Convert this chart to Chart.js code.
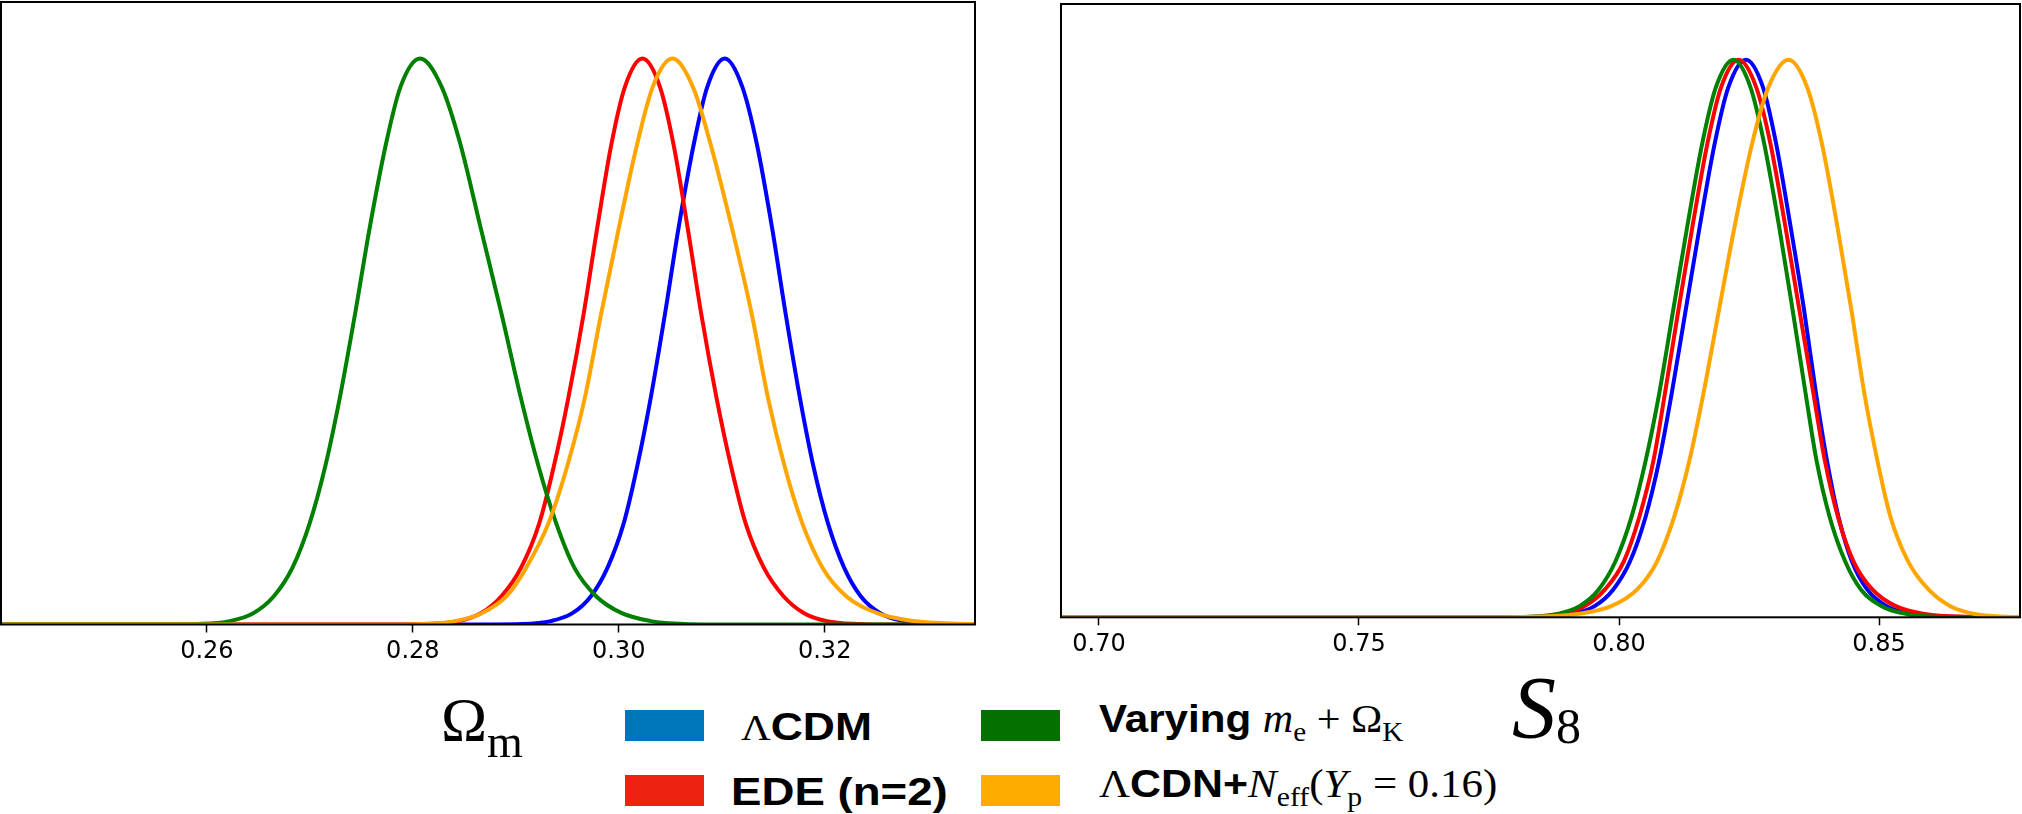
<!DOCTYPE html>
<html>
<head>
<meta charset="utf-8">
<title>Omega_m and S8 posteriors</title>
<script src="https://cdn.jsdelivr.net/npm/chart.js@4.4.0/dist/chart.umd.min.js"></script>
<style>
  body { margin: 0; background: #fff; }
  #page { position: relative; width: 2022px; height: 814px; overflow: hidden; background: #fff; }
  .panel { position: absolute; top: 0; }
  .lbl { position: absolute; white-space: nowrap; line-height: 1; color: #000; transform-origin: left center; }
  .sans { font-family: "Liberation Sans", Arial, sans-serif; font-weight: bold; font-size: 39px; }
  .serif { font-family: "Liberation Serif", "Times New Roman", serif; font-weight: normal; font-size: 39px; }
  .it { font-style: italic; }
  .sub { position: relative; top: 0.32em; font-size: 27px; font-family: "Liberation Serif", "Times New Roman", serif; font-weight: normal; font-style: normal; }
  .swatch { position: absolute; width: 79px; height: 31px; }
</style>
</head>
<body>
<div id="page">
  <div class="panel" style="left:0px;"><canvas id="omegaChart" width="990" height="690"></canvas></div>
  <div class="panel" style="left:1040px;"><canvas id="s8Chart" width="982" height="690"></canvas></div>

  <!-- axis titles -->
  <div class="lbl serif" style="left:441px; top:688px; font-size:62px;">Ω<span class="sub" style="font-size:46px; top:0.36em;">m</span></div>
  <div class="lbl serif it" style="left:1512px; top:664px; font-size:88px;">S<span class="sub" style="font-size:50px; top:0.12em;">8</span></div>

  <!-- legend -->
  <div class="swatch" style="left:625px; top:710px; background:#0175BA;"></div>
  <div class="swatch" style="left:625px; top:775px; background:#EE2211;"></div>
  <div class="swatch" style="left:981px; top:710px; background:#037000;"></div>
  <div class="swatch" style="left:981px; top:775px; background:#FEAD00;"></div>

  <div class="lbl sans" style="left:741px; top:707px; transform:scaleX(1.14);"><span class="serif" style="font-size:36px;">Λ</span>CDM</div>
  <div class="lbl sans" style="left:731px; top:772px; transform:scaleX(1.17);">EDE (n=2)</div>
  <div class="lbl sans" style="left:1099px; top:699px; transform:scaleX(1.08);">Varying <span class="serif it">m</span><span class="sub">e</span><span class="serif"> + Ω</span><span class="sub">K</span></div>
  <div class="lbl sans" style="left:1099px; top:764px; transform:scaleX(1.1);"><span class="serif">Λ</span>CDN+<span class="serif it">N</span><span class="sub">eff</span><span class="serif">(<span class="it">Y</span></span><span class="sub">p</span><span class="serif"> = 0.16)</span></div>
</div>

<script>
// axis limits and tick positions
const omegaRange = [0.24, 0.3346];
const s8Range = [0.6927, 0.8771];
const omegaTicks = [0.26, 0.28, 0.30, 0.32];
const s8Ticks = [0.70, 0.75, 0.80, 0.85];

// Omega_m marginals (normalised to peak = 1)
const omLcdmX = [0.2400, 0.2840, 0.2906, 0.2934, 0.2955, 0.2973, 0.2989, 0.3005, 0.3018, 0.3031, 0.3045, 0.3058, 0.3073, 0.3086, 0.3103, 0.3120, 0.3134, 0.3149, 0.3162, 0.3176, 0.3189, 0.3203, 0.3219, 0.3235, 0.3254, 0.3277, 0.3320, 0.3346];
const omLcdmY = [0, 0, 0.001, 0.006, 0.02, 0.05, 0.10, 0.18, 0.28, 0.40, 0.55, 0.70, 0.85, 0.95, 1.0, 0.95, 0.85, 0.70, 0.55, 0.40, 0.28, 0.18, 0.10, 0.05, 0.02, 0.006, 0.001, 0];

const omEdeX = [0.2400, 0.2780, 0.2812, 0.2844, 0.2866, 0.2886, 0.2905, 0.2923, 0.2937, 0.2951, 0.2966, 0.2979, 0.2993, 0.3006, 0.3023, 0.3040, 0.3053, 0.3067, 0.3080, 0.3095, 0.3109, 0.3123, 0.3141, 0.3160, 0.3180, 0.3202, 0.3234, 0.3270, 0.3346];
const omEdeY = [0, 0, 0.001, 0.006, 0.02, 0.05, 0.10, 0.18, 0.28, 0.40, 0.55, 0.70, 0.85, 0.95, 1.0, 0.95, 0.85, 0.70, 0.55, 0.40, 0.28, 0.18, 0.10, 0.05, 0.02, 0.006, 0.001, 0, 0];

const omMeX = [0.2400, 0.2550, 0.2591, 0.2622, 0.2645, 0.2665, 0.2683, 0.2700, 0.2715, 0.2729, 0.2744, 0.2758, 0.2774, 0.2788, 0.2807, 0.2828, 0.2846, 0.2866, 0.2886, 0.2905, 0.2922, 0.2939, 0.2957, 0.2978, 0.3003, 0.3031, 0.3064, 0.3110, 0.3346];
const omMeY = [0, 0, 0.001, 0.006, 0.02, 0.05, 0.10, 0.18, 0.28, 0.40, 0.55, 0.70, 0.85, 0.95, 1.0, 0.95, 0.85, 0.70, 0.55, 0.40, 0.28, 0.18, 0.10, 0.05, 0.02, 0.006, 0.001, 0, 0];

const omNeffX = [0.2400, 0.2770, 0.2810, 0.2841, 0.2867, 0.2891, 0.2910, 0.2932, 0.2950, 0.2967, 0.2983, 0.3000, 0.3018, 0.3033, 0.3052, 0.3072, 0.3089, 0.3110, 0.3129, 0.3145, 0.3161, 0.3178, 0.3198, 0.3221, 0.3251, 0.3286, 0.3335, 0.3346];
const omNeffY = [0, 0, 0.001, 0.006, 0.02, 0.05, 0.10, 0.18, 0.28, 0.40, 0.55, 0.70, 0.85, 0.95, 1.0, 0.95, 0.85, 0.70, 0.55, 0.40, 0.28, 0.18, 0.10, 0.05, 0.02, 0.006, 0.001, 0.0006];

// S8 marginals
const s8LcdmX = [0.6927, 0.7750, 0.7857, 0.7911, 0.7953, 0.7989, 0.8021, 0.8051, 0.8077, 0.8101, 0.8128, 0.8155, 0.8184, 0.8210, 0.8244, 0.8277, 0.8302, 0.8330, 0.8356, 0.8379, 0.8400, 0.8422, 0.8448, 0.8477, 0.8515, 0.8567, 0.8638, 0.8771];
const s8LcdmY = [0, 0, 0.001, 0.006, 0.02, 0.05, 0.10, 0.18, 0.28, 0.40, 0.55, 0.70, 0.85, 0.95, 1.0, 0.95, 0.85, 0.70, 0.55, 0.40, 0.28, 0.18, 0.10, 0.05, 0.02, 0.006, 0.001, 0];

const s8EdeX = [0.6927, 0.7700, 0.7836, 0.7891, 0.7934, 0.7973, 0.8009, 0.8039, 0.8066, 0.8088, 0.8114, 0.8141, 0.8170, 0.8196, 0.8230, 0.8264, 0.8291, 0.8320, 0.8347, 0.8374, 0.8396, 0.8421, 0.8451, 0.8487, 0.8532, 0.8588, 0.8665, 0.8771];
const s8EdeY = [0, 0, 0.001, 0.006, 0.02, 0.05, 0.10, 0.18, 0.28, 0.40, 0.55, 0.70, 0.85, 0.95, 1.0, 0.95, 0.85, 0.70, 0.55, 0.40, 0.28, 0.18, 0.10, 0.05, 0.02, 0.006, 0.001, 0];

const s8MeX = [0.6927, 0.7700, 0.7826, 0.7881, 0.7924, 0.7961, 0.7993, 0.8024, 0.8051, 0.8077, 0.8104, 0.8131, 0.8160, 0.8186, 0.8220, 0.8253, 0.8279, 0.8308, 0.8334, 0.8359, 0.8380, 0.8405, 0.8435, 0.8465, 0.8505, 0.8553, 0.8607, 0.8700, 0.8771];
const s8MeY = [0, 0, 0.001, 0.006, 0.02, 0.05, 0.10, 0.18, 0.28, 0.40, 0.55, 0.70, 0.85, 0.95, 1.0, 0.95, 0.85, 0.70, 0.55, 0.40, 0.28, 0.18, 0.10, 0.05, 0.02, 0.006, 0.001, 0, 0];

const s8NeffX = [0.6927, 0.7700, 0.7839, 0.7920, 0.7985, 0.8035, 0.8073, 0.8106, 0.8135, 0.8162, 0.8192, 0.8222, 0.8256, 0.8287, 0.8326, 0.8362, 0.8390, 0.8420, 0.8447, 0.8472, 0.8497, 0.8522, 0.8556, 0.8595, 0.8637, 0.8684, 0.8746, 0.8771];
const s8NeffY = [0, 0, 0.001, 0.006, 0.02, 0.05, 0.10, 0.18, 0.28, 0.40, 0.55, 0.70, 0.85, 0.95, 1.0, 0.95, 0.85, 0.70, 0.55, 0.40, 0.28, 0.18, 0.10, 0.05, 0.02, 0.006, 0.001, 0.0005];

function pairs(xs, ys) {
    return xs.map(function(x, i) { return { x: x, y: ys[i] }; });
}

function curve(xs, ys, color, order) {
    return {
        data: pairs(xs, ys),
        borderColor: color,
        borderWidth: 4,
        pointRadius: 0,
        fill: false,
        cubicInterpolationMode: 'monotone',
        order: order
    };
}

// box round the plot area, drawn over the curves like a matplotlib frame
const frame = {
    id: 'frame',
    afterDatasetsDraw: function(chart) {
        const a = chart.chartArea;
        const ctx = chart.ctx;
        ctx.save();
        ctx.strokeStyle = '#000';
        ctx.lineWidth = 2;
        ctx.strokeRect(a.left, a.top, a.right - a.left, a.bottom - a.top);
        ctx.restore();
    }
};

function makePanel(id, datasets, range, ticks, padding, axisHeight) {
    return new Chart(document.getElementById(id), {
        type: 'line',
        data: { datasets: datasets },
        options: {
            responsive: false,
            animation: false,
            layout: { padding: padding },
            plugins: { legend: { display: false }, tooltip: { enabled: false } },
            scales: {
                x: {
                    type: 'linear',
                    min: range[0],
                    max: range[1],
                    afterBuildTicks: function(scale) {
                        scale.ticks = ticks.map(function(v) { return { value: v }; });
                    },
                    afterFit: function(scale) { scale.height = axisHeight; },
                    ticks: {
                        color: '#000',
                        padding: 5,
                        maxRotation: 0,
                        font: { family: 'DejaVu Sans', size: 24 },
                        callback: function(v) { return v.toFixed(2); }
                    },
                    grid: {
                        drawOnChartArea: false,
                        drawTicks: true,
                        tickLength: 8,
                        tickWidth: 1.5,
                        tickColor: '#000'
                    },
                    border: { display: false }
                },
                y: { display: false, min: 0, max: 1.1 }
            }
        },
        plugins: [frame]
    });
}

makePanel('omegaChart', [
    curve(omLcdmX, omLcdmY, '#0000FF', 4),
    curve(omEdeX, omEdeY, '#FF0000', 3),
    curve(omMeX, omMeY, '#008000', 2),
    curve(omNeffX, omNeffY, '#FFA500', 1)
], omegaRange, omegaTicks, { left: 1, top: 2, right: 15, bottom: 0 }, 65.5);

makePanel('s8Chart', [
    curve(s8LcdmX, s8LcdmY, '#0000FF', 4),
    curve(s8EdeX, s8EdeY, '#FF0000', 3),
    curve(s8MeX, s8MeY, '#008000', 2),
    curve(s8NeffX, s8NeffY, '#FFA500', 1)
], s8Range, s8Ticks, { left: 21, top: 4, right: 2, bottom: 0 }, 72.7);
</script>
</body>
</html>
